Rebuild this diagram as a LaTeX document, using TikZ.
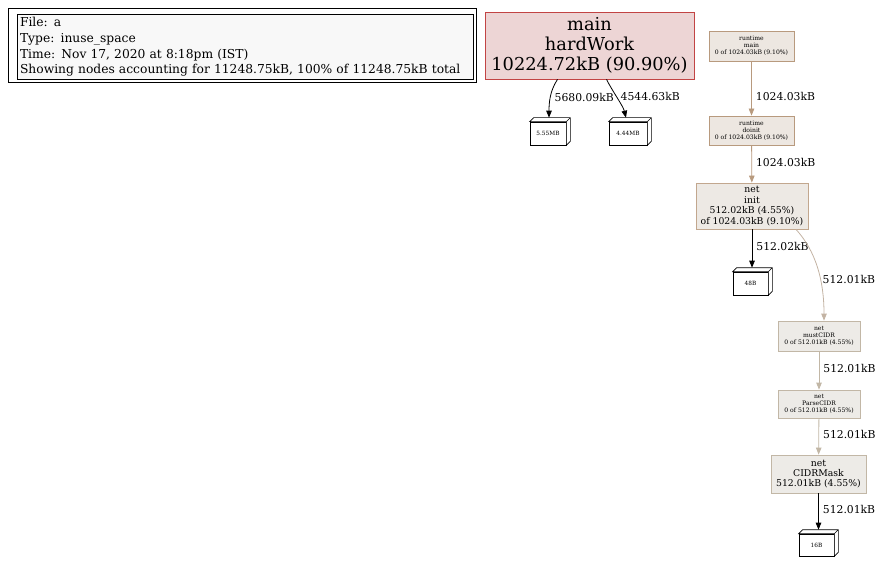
\documentclass[tikz,border=0pt]{standalone}
\usepackage{fontspec}
\setmainfont{DejaVu Serif}
\usetikzlibrary{arrows.meta,positioning,calc}
\definecolor{LegendGray}{HTML}{F8F8F8}
\definecolor{HotFill}{HTML}{EDD5D5}
\definecolor{HotLine}{HTML}{C24444}
\definecolor{RtFill}{HTML}{EDE7E1}
\definecolor{RtLine}{HTML}{B89A7E}
\definecolor{InitFill}{HTML}{EDE9E4}
\definecolor{InitLine}{HTML}{C2A78E}
\definecolor{CidrFill}{HTML}{EDEBE7}
\definecolor{CidrLine}{HTML}{C2B7A6}
\definecolor{CoolEdge}{HTML}{C3B3A3}

\begin{document}
\begin{tikzpicture}[x=1pt, y=-1pt,
        func/.style={rectangle, draw, line width=0.8pt, inner sep=1pt, align=center},
        tiny/.style={func, font=\fontsize{6.1}{7.1}\selectfont, minimum width=85pt, minimum height=30pt},
        tensor/.style={rectangle, draw, line width=0.6pt, fill=white, inner sep=1pt, minimum height=23pt, font=\fontsize{5.8}{6}\selectfont},
        elabel/.style={font=\fontsize{10.8}{12}\selectfont, inner sep=1pt, right=3pt},
        arrow/.style={-{Triangle[length=7pt, width=5.5pt]}, line width=0.8pt}
      ]
        \useasboundingbox (0,0) rectangle (880,561);

        % Legend
        \node[rectangle, draw, line width=0.8pt, minimum width=468pt, minimum height=74pt] (legendout) at (242,45) {};
        \node[rectangle, draw, line width=0.8pt, fill=LegendGray, minimum width=456pt, minimum height=63pt,
              text width=450pt, align=left, inner sep=3pt, font=\fontsize{12.3}{15.6}\selectfont] (legend) at (245,47) {
          File: a\\
          Type: inuse\_space\\
          Time: Nov 17, 2020 at 8:18pm (IST)\\
          Showing nodes accounting for 11248.75kB, 100\% of 11248.75kB total
        };

        % Functions
        \node[func, fill=HotFill, draw=HotLine, minimum width=209pt, minimum height=67pt,
              font=\fontsize{17.8}{20}\selectfont] (hardwork) at (589.5,45.5) {main\\hardWork\\10224.72kB (90.90\%)};

        \node[tiny, fill=RtFill, draw=RtLine] (rtmain) at (751.5,46) {runtime\\main\\0 of 1024.03kB (9.10\%)};
        \node[tiny, fill=RtFill, draw=RtLine, minimum height=29pt] (doinit) at (751.5,130.5) {runtime\\doinit\\0 of 1024.03kB (9.10\%)};
        \node[func, fill=InitFill, draw=InitLine, minimum width=112pt, minimum height=46pt,
              font=\fontsize{9.3}{10.6}\selectfont] (netinit) at (752,206) {net\\init\\512.02kB (4.55\%)\\of 1024.03kB (9.10\%)};

        \node[tiny, fill=CidrFill, draw=CidrLine, minimum width=82pt] (mustcidr) at (819,336) {net\\mustCIDR\\0 of 512.01kB (4.55\%)};
        \node[tiny, fill=CidrFill, draw=CidrLine, minimum width=82pt, minimum height=28pt] (parsecidr) at (819,404) {net\\ParseCIDR\\0 of 512.01kB (4.55\%)};
        \node[func, fill=CidrFill, draw=CidrLine, minimum width=95pt, minimum height=38pt,
              font=\fontsize{9.3}{10.2}\selectfont] (cidrmask) at (818.5,474) {net\\CIDRMask\\512.01kB (4.55\%)};

        % Allocation sizes
        \node[tensor, minimum width=36pt] (sizea) at (548,133.5) {5.55MB};
        \node[tensor, minimum width=38pt] (sizeb) at (628,133.5) {4.44MB};
        \node[tensor, minimum width=35pt] (sizec) at (750.5,283.5) {48B};
        \node[tensor, minimum width=35pt, minimum height=22pt] (sized) at (816.5,545) {16B};

        \foreach \b in {sizea,sizeb,sizec,sized}
          \draw[line width=0.6pt, fill=white] (\b.north west) -- ([shift={(4pt,4pt)}]\b.north west)
            -- ([shift={(4pt,4pt)}]\b.north east) -- ([shift={(4pt,4pt)}]\b.south east)
            -- (\b.south east) -- (\b.north east) -- cycle
            (\b.north east) -- ([shift={(4pt,4pt)}]\b.north east);

        % Edges
        \draw[arrow] ([xshift=-32pt]hardwork.south) .. controls +(-8,12) and +(0,-14) .. ([shift={(1pt,4pt)}]sizea.north)
          node[elabel, pos=0.5] {5680.09kB};
        \draw[arrow] ([xshift=17pt]hardwork.south) .. controls +(6,12) and +(-3,-12) .. ([shift={(-2pt,4pt)}]sizeb.north)
          node[elabel, pos=0.45] {4544.63kB};

        \draw[arrow, RtLine] (rtmain) -- node[elabel, pos=0.65, black] {1024.03kB} (doinit);
        \draw[arrow, RtLine] (doinit) -- node[elabel, pos=0.45, black] {1024.03kB} (netinit);
        \draw[arrow] (netinit) -- node[elabel, pos=0.45] {512.02kB} ([shift={(1.5pt,4pt)}]sizec.north);
        \draw[arrow, CoolEdge] ([xshift=44pt]netinit.south) .. controls +(20,22) and +(0,-40) .. ([xshift=5pt]mustcidr.north)
          node[elabel, pos=0.62, black, right=1pt] {512.01kB};
        \draw[arrow, CidrLine] (mustcidr) -- node[elabel, pos=0.45, black] {512.01kB} (parsecidr);
        \draw[arrow, CidrLine] (parsecidr) -- node[elabel, pos=0.45, black] {512.01kB} (cidrmask);
        \draw[arrow] (cidrmask) -- node[elabel, pos=0.45] {512.01kB} ([shift={(2pt,4pt)}]sized.north);

      \end{tikzpicture}
\end{document}
